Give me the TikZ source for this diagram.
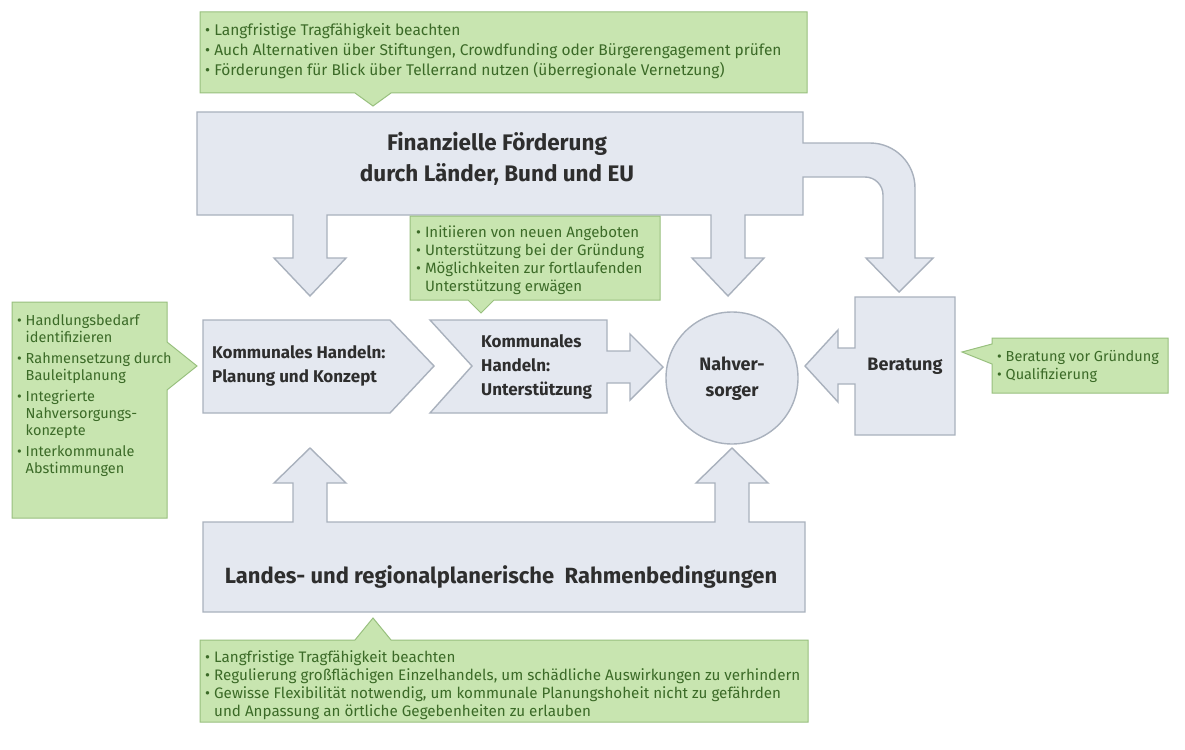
\documentclass[tikz,border=0pt]{standalone}
\usepackage{fontspec}
\setmainfont{Fira Sans}
\definecolor{bfill}{HTML}{E4E8F0}
\definecolor{bline}{HTML}{A9B1BD}
\definecolor{gfill}{HTML}{C8E5B0}
\definecolor{gline}{HTML}{98C07E}
\definecolor{gtext}{HTML}{3B6A27}
\definecolor{dtext}{HTML}{2E2E2E}
\newcommand{\bl}{\textbullet\ }
\newcommand{\nb}{\hphantom{\textbullet\ }}
\begin{document}
\begin{tikzpicture}[x=1pt,y=-1pt,
  bshape/.style={fill=bfill,draw=bline,line width=1.4pt,line join=miter},
  gshape/.style={fill=gfill,draw=gline,line width=1pt,line join=miter},
  headtxt/.style={text=dtext,font=\bfseries\fontsize{22.5}{31}\selectfont,align=center,inner sep=0pt},
  boxtxt/.style={text=dtext,font=\bfseries\fontsize{17}{24}\selectfont,inner sep=0pt},
  gtxt/.style={text=gtext,align=left,inner sep=0pt,anchor=north west},
]
\fill[white] (0,0) rectangle (1185,749);
\useasboundingbox (0,0) rectangle (1185,749);

% ---------- top box with down arrows and curved arrow
\draw[bshape] (197,112) -- (803,112) -- (803,143) -- (870,143)
  arc[start angle=-90,end angle=0,radius=45] -- (915,258) -- (933,258) -- (899,292)
  -- (866,258) -- (883,258) -- (883,195) arc[start angle=0,end angle=-90,radius=18]
  -- (803,177) -- (803,215) -- (745,215) -- (745,258) -- (764,258) -- (728,296)
  -- (692,258) -- (711,258) -- (711,215) -- (327,215) -- (327,258) -- (346,258)
  -- (310,296) -- (274,258) -- (293,258) -- (293,215) -- (197,215) -- cycle;
\node[headtxt] (fin) at (497,159) {Finanzielle Förderung\\durch Länder, Bund und EU};

% ---------- bottom box with up arrows
\draw[bshape] (203,522) -- (293,522) -- (293,483) -- (274,483) -- (310,448) -- (346,483)
  -- (327,483) -- (327,522) -- (715,522) -- (715,483) -- (696,483) -- (732,448)
  -- (768,483) -- (749,483) -- (749,522) -- (805,522) -- (805,612) -- (203,612) -- cycle;
\node[headtxt,font=\bfseries\fontsize{22}{30}\selectfont] (land) at (501,577) {Landes- und regionalplanerische\ \ Rahmenbedingungen};

% ---------- Planung
\draw[bshape] (203,320) -- (390,320) -- (434,366) -- (390,413) -- (203,413) -- cycle;
\node[boxtxt,anchor=west,align=left] (plan) at (212,366) {Kommunales Handeln:\\Planung und Konzept};

% ---------- Unterstuetzung
\draw[bshape] (430,320) -- (607,320) -- (607,351) -- (630,351) -- (630,334) -- (663,367)
  -- (630,400) -- (630,383) -- (607,383) -- (607,413) -- (430,413) -- (472,366) -- cycle;
\node[boxtxt,anchor=west,align=left] (unt) at (481,367) {Kommunales\\Handeln:\\Unterstützung};

% ---------- Nahversorger
\node[circle,bshape,minimum size=132pt,inner sep=0pt] (nv) at (732,378) {};
\node[boxtxt,align=center,font=\bfseries\fontsize{18}{26}\selectfont] (nvt) at ([yshift=-1pt]nv.center) {Nahver-\\sorger};

% ---------- Beratung
\draw[bshape] (855,297) -- (955,297) -- (955,435) -- (855,435) -- (855,384) -- (838,384)
  -- (838,402) -- (805,366) -- (838,330) -- (838,348) -- (855,348) -- cycle;
\node[boxtxt,font=\bfseries\fontsize{18}{24}\selectfont] (ber) at (905,366) {Beratung};

% ---------- green callouts
\draw[gshape] (200,12) -- (807,12) -- (807,93) -- (391,93) -- (373,106) -- (355,93) -- (200,93) -- cycle;
\node[gtxt,font=\fontsize{15.5}{20}\selectfont] (tg) at (205,23) {\bl Langfristige Tragfähigkeit beachten\\
\bl Auch Alternativen über Stiftungen, Crowdfunding oder Bürgerengagement prüfen\\
\bl Förderungen für Blick über Tellerrand nutzen (überregionale Vernetzung)};

\draw[gshape] (410,216) -- (660,216) -- (660,300) -- (494,300) -- (481,313) -- (468,300) -- (410,300) -- cycle;
\node[gtxt,font=\fontsize{15}{18}\selectfont] (mg) at (416,226) {\bl Initiieren von neuen Angeboten\\
\bl Unterstützung bei der Gründung\\
\bl Möglichkeiten zur fortlaufenden\\
\nb Unterstützung erwägen};

\draw[gshape] (12,302) -- (167,302) -- (167,342) -- (197,366) -- (167,390) -- (167,518) -- (12,518) -- cycle;
\node[gtxt,font=\fontsize{14.5}{17}\selectfont] (lg) at (17,314) {\bl Handlungsbedarf\\
\nb identifizieren\\[4pt]
\bl Rahmensetzung durch\\
\nb Bauleitplanung\\[4pt]
\bl Integrierte\\
\nb Nahversorgungs-\\
\nb konzepte\\[4pt]
\bl Interkommunale\\
\nb Abstimmungen};

\draw[gshape] (992,338) -- (1168,338) -- (1168,393) -- (992,393) -- (992,364) -- (962,352) -- (992,344) -- cycle;
\node[gtxt,font=\fontsize{14.5}{18}\selectfont] (rg) at (997,350) {\bl Beratung vor Gründung\\
\bl Qualifizierung};

\draw[gshape] (200,640) -- (355,640) -- (373,618) -- (391,640) -- (808,640) -- (808,722) -- (200,722) -- cycle;
\node[gtxt,font=\fontsize{15.2}{18}\selectfont] (bg) at (205,650) {\bl Langfristige Tragfähigkeit beachten\\
\bl Regulierung großflächigen Einzelhandels, um schädliche Auswirkungen zu verhindern\\
\bl Gewisse Flexibilität notwendig, um kommunale Planungshoheit nicht zu gefährden\\
\nb und Anpassung an örtliche Gegebenheiten zu erlauben};
\end{tikzpicture}
\end{document}
